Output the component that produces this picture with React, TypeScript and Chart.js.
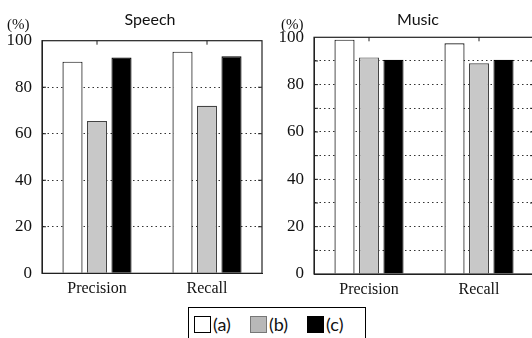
import React, { useEffect, useRef } from "react";
import { Chart, registerables } from "chart.js";

Chart.register(...registerables);

const categories = ["Precision", "Recall"];
const seriesLabels = ["(a)", "(b)", "(c)"];
const speechA = [91, 95.3];
const speechB = [65.5, 72];
const speechC = [92.8, 93.3];
const musicA = [99, 97.5];
const musicB = [91.5, 89];
const musicC = [90.5, 90.5];
const yMin = 0;
const yMax = 100;
const yStep = 10;
const yLabelStep = 20;

const fills = ["#ffffff", "#c8c8c8", "#000000"];
const edges = ["#111111", "#444444", "#000000"];

const serif = "'Liberation Serif', 'Times New Roman', serif";
const sans = "Lato, 'Open Sans', sans-serif";

Chart.defaults.font.family = serif;
Chart.defaults.font.size = 16;
Chart.defaults.color = "#111";

const framePlugin = {
  id: "frame",
  afterDatasetsDraw(chart: any) {
    const { ctx, chartArea, scales } = chart;
    const { left, right, top, bottom } = chartArea;
    ctx.save();
    ctx.strokeStyle = "#222";
    ctx.lineWidth = 1.2;
    ctx.strokeRect(left, top, right - left, bottom - top);
    ctx.lineWidth = 1;
    const xs = scales.x;
    xs.ticks.forEach((_t: any, i: number) => {
      const px = xs.getPixelForTick(i);
      ctx.beginPath();
      ctx.moveTo(px, top);
      ctx.lineTo(px, top + 4);
      ctx.stroke();
    });
    const ys = scales.y;
    ys.ticks.forEach((t: any) => {
      if (t.value <= yMin || t.value >= yMax) return;
      const py = ys.getPixelForValue(t.value);
      ctx.beginPath();
      ctx.moveTo(left, py);
      ctx.lineTo(left + 4, py);
      ctx.moveTo(right - 4, py);
      ctx.lineTo(right, py);
      ctx.stroke();
    });
    ctx.restore();
  },
};

type PanelProps = {
  a: number[];
  b: number[];
  c: number[];
  left: number;
  width: number;
  height: number;
  padTop: number;
  axisH: number;
  axisW: number;
  padRight: number;
};

function Panel(p: PanelProps) {
  const ref = useRef<HTMLCanvasElement | null>(null);
  useEffect(() => {
    if (!ref.current) return;
    const data = [p.a, p.b, p.c];
    const chart = new Chart(ref.current, {
      type: "bar",
      data: {
        labels: categories,
        datasets: data.map((d, i) => ({
          label: seriesLabels[i],
          data: d,
          backgroundColor: fills[i],
          borderColor: edges[i],
          borderWidth: 1.2,
          categoryPercentage: 0.668,
          barPercentage: 0.82,
        })),
      },
      options: {
        responsive: false,
        animation: false,
        devicePixelRatio: 1,
        layout: { padding: { top: p.padTop, right: p.padRight, left: 0, bottom: 0 } },
        plugins: { legend: { display: false }, title: { display: false }, tooltip: { enabled: false } },
        scales: {
          x: {
            grid: { display: false, drawTicks: false },
            border: { display: true, color: "#222", width: 1 },
            ticks: {
              padding: 6,
              color: "#111",
              font: { family: serif, size: 16 },
            },
            afterFit: (s: any) => {
              s.height = p.axisH;
            },
          },
          y: {
            min: yMin,
            max: yMax,
            grid: {
              drawTicks: false,
              color: (c: any) =>
                c.tick && (c.tick.value <= yMin || c.tick.value >= yMax) ? "rgba(0,0,0,0)" : "#333",
              lineWidth: 1,
            },
            border: { display: true, color: "#222", width: 1, dash: [1.5, 3] },
            ticks: {
              stepSize: yStep,
              padding: 10,
              color: "#111",
              font: { family: serif, size: 17 },
              callback: (v: any) => (Number(v) % yLabelStep === 0 ? String(v) : ""),
            },
            afterFit: (s: any) => {
              s.width = p.axisW;
            },
          },
        },
      },
      plugins: [framePlugin],
    });
    return () => chart.destroy();
  }, []);
  return (
    <canvas
      ref={ref}
      width={p.width}
      height={p.height}
      style={{ position: "absolute", left: p.left, top: 0, width: p.width, height: p.height }}
    />
  );
}

export default function App() {
  return (
    <div
      style={{
        position: "absolute",
        left: 0,
        top: 0,
        width: 532,
        height: 338,
        overflow: "hidden",
        background: "#fff",
      }}
    >
      <Panel a={speechA} b={speechB} c={speechC} left={0} width={270} height={300} padTop={40.7} axisH={26.7} axisW={42} padRight={8} />
      <Panel a={musicA} b={musicB} c={musicC} left={272} width={270} height={300} padTop={37.3} axisH={26} axisW={42} padRight={8} />
      <div style={{ position: "absolute", left: 100, width: 100, top: 9, textAlign: "center", font: `16px ${sans}`, color: "#111", lineHeight: "20px" }}>Speech</div>
      <div style={{ position: "absolute", left: 368, width: 100, top: 9, textAlign: "center", font: `16px ${sans}`, color: "#111", lineHeight: "20px" }}>Music</div>
      <div style={{ position: "absolute", left: 7, top: 15, font: `15px ${serif}`, color: "#111", lineHeight: "18px" }}>(%)</div>
      <div style={{ position: "absolute", left: 281, top: 15, font: `15px ${serif}`, color: "#111", lineHeight: "18px" }}>(%)</div>
      <div
        style={{
          position: "absolute",
          left: 188,
          top: 307,
          width: 178,
          height: 40,
          border: "1.5px solid #000",
          display: "flex",
          alignItems: "flex-start",
          paddingTop: 6,
          paddingLeft: 5,
          boxSizing: "border-box",
          font: `18px ${sans}`,
          color: "#111",
        }}
      >
        {seriesLabels.map((l, i) => (
          <div key={l} style={{ display: "flex", alignItems: "center", marginRight: i < 2 ? 19 : 0 }}>
            <span
              style={{
                display: "inline-block",
                width: 17,
                height: 17,
                background: i === 1 ? "#b8b8b8" : fills[i],
                border: `1px solid ${i === 1 ? "#777" : "#000"}`,
                boxSizing: "border-box",
                marginRight: 2,
              }}
            />
            <span style={{ lineHeight: "20px" }}>{l}</span>
          </div>
        ))}
      </div>
    </div>
  );
}
